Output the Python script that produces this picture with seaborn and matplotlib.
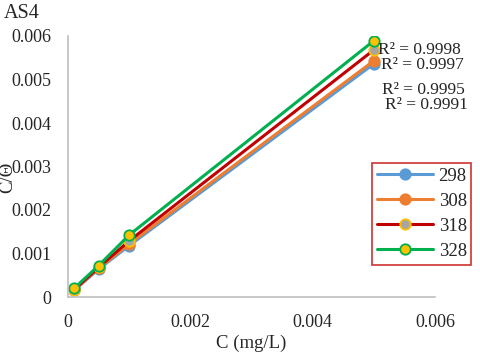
import matplotlib
matplotlib.use("Agg")
import matplotlib.pyplot as plt
import seaborn as sns
import pandas as pd

# --- DATA ---
conc = [0.0001, 0.0005, 0.001, 0.005]
temps = ["298", "308", "318", "328"]
y_298 = [0.00015, 0.00064, 0.00118, 0.00536]
y_308 = [0.00016, 0.00066, 0.00122, 0.00543]
y_318 = [0.00017, 0.00068, 0.00129, 0.00568]
y_328 = [0.00020, 0.00072, 0.001425, 0.00589]
r2_labels = ["R² = 0.9998", "R² = 0.9997", "R² = 0.9995", "R² = 0.9991"]

line_colors = ["#5B9BD5", "#ED7D31", "#C00000", "#00B050"]
face_colors = ["#5B9BD5", "#ED7D31", "#A5A5A5", "#FFC000"]
edge_colors = ["#5B9BD5", "#ED7D31", "#FFC000", "#00B050"]

sns.set_style("white")
plt.rcParams['font.family'] = ['Liberation Serif', 'DejaVu Serif']

fig = plt.figure(figsize=(4.8, 3.56), dpi=100)
ax = fig.add_axes([68 / 480, 59 / 356, 367 / 480, 261 / 356])

for t, ys, lc, fc, ec in zip(temps, [y_298, y_308, y_318, y_328], line_colors, face_colors, edge_colors):
    df = pd.DataFrame({"C": conc, "val": ys})
    sns.lineplot(data=df, x="C", y="val", ax=ax, color=lc, linewidth=2.2, marker="o",
                 markersize=7.5, markerfacecolor=fc, markeredgecolor=ec, markeredgewidth=1.3,
                 label=t)

ax.set_xlim(0, 0.006)
ax.set_ylim(0, 0.006)
ax.set_xticks([0, 0.002, 0.004, 0.006])
ax.set_xticklabels(["0", "0.002", "0.004", "0.006"])
ax.set_yticks([0, 0.001, 0.002, 0.003, 0.004, 0.005, 0.006])
ax.set_yticklabels(["0", "0.001", "0.002", "0.003", "0.004", "0.005", "0.006"])
ax.tick_params(axis="both", length=0, labelsize=13, pad=12)

for s in ["top", "right"]:
    ax.spines[s].set_visible(False)
for s in ["left", "bottom"]:
    ax.spines[s].set_color("#BFBFBF")
    ax.spines[s].set_linewidth(1.2)

ax.set_xlabel("C (mg/L)", fontsize=13.5, labelpad=3)
ax.set_ylabel("C/Θ", fontsize=13.5)
ax.yaxis.set_label_coords(-0.14, 0.46)
fig.text(4 / 480, 1 - 14 / 356, "AS4", fontsize=14.5, va="center", ha="left")

# R² annotations
r2_pos = [(378, 50), (381, 65), (382, 90), (385, 105)]
for lab, (px, py) in zip(r2_labels, r2_pos):
    fig.text(px / 480, 1 - py / 356, lab, fontsize=12.5, ha="left", va="center")

leg = ax.legend(loc="upper left", bbox_to_anchor=((372 - 68) / 367, (297 - 163) / 261),
                fontsize=13.5, frameon=True, fancybox=False, handlelength=3.0,
                borderpad=0.25, labelspacing=0.42, handletextpad=0.3, borderaxespad=0)
leg.get_frame().set_edgecolor("#C00000")
leg.get_frame().set_linewidth(1.2)

fig.savefig("out.png", dpi=100)
